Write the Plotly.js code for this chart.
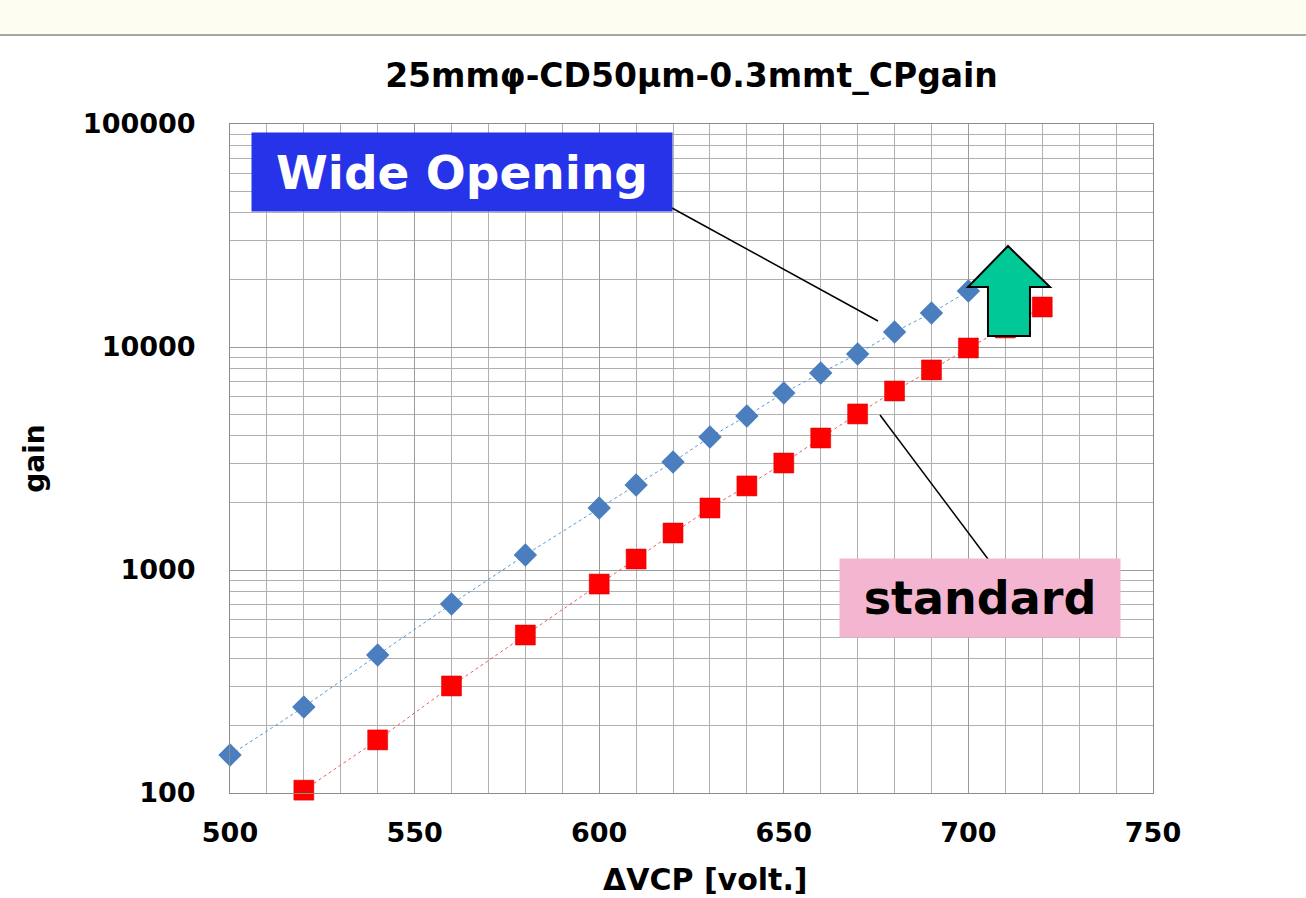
<!DOCTYPE html>
<html>
<head>
<meta charset="utf-8">
<script src="https://cdn.plot.ly/plotly-3.0.1.min.js"></script>
<style>
html,body{margin:0;padding:0;background:#ffffff;}
#chart{width:1306px;height:898px;}
</style>
</head>
<body>
<div id="chart"></div>
<script>
// Data
const voltWide = [500, 520, 540, 560, 580, 600, 610, 620, 630, 640, 650, 660, 670, 680, 690, 700];
const gainWide = [148, 243, 416, 704, 1168, 1897, 2405, 3050, 3948, 4906, 6221, 7646, 9305, 11675, 14200, 17830];

const voltStd = [520, 540, 560, 580, 600, 610, 620, 630, 640, 650, 660, 670, 680, 690, 700, 710, 720];
const gainStd = [103, 173, 302, 511, 865, 1120, 1465, 1897, 2382, 3018, 3908, 5010, 6350, 7890, 9900, 12170, 15110];

const titleText = "25mmφ-CD50μm-0.3mmt_CPgain";
const xTitle = "ΔVCP [volt.]";
const yTitle = "gain";
const labelWide = "Wide Opening";
const labelStd = "standard";

const FONT = "DejaVu Sans, Verdana, sans-serif";

const traces = [
  {
    x: voltWide, y: gainWide, type: 'scatter', mode: 'lines+markers', name: 'Wide Opening',
    cliponaxis: false,
    line: {color: '#4F9BD6', width: 1, dash: 'dot'},
    marker: {symbol: 'diamond', size: 18, color: '#4A7EBF', line: {width: 0}}
  },
  {
    x: voltStd, y: gainStd, type: 'scatter', mode: 'lines+markers', name: 'standard',
    cliponaxis: false,
    line: {color: '#E46060', width: 1, dash: 'dot'},
    marker: {symbol: 'square', size: 20, color: '#FF0000', line: {width: 0.5, color: '#D00000'}}
  }
];

const gridC = '#B0B0B0';
const layout = {
  width: 1306, height: 898,
  margin: {l: 230, r: 153, t: 124, b: 105},
  paper_bgcolor: '#ffffff',
  plot_bgcolor: '#ffffff',
  showlegend: false,
  title: {
    text: titleText, xref: 'paper', x: 0.5, xanchor: 'center',
    yref: 'container', y: 1 - 75/898, yanchor: 'middle',
    font: {family: FONT, size: 33, weight: 'bold', color: '#000'}
  },
  xaxis: {
    type: 'linear', range: [500, 750], dtick: 50, tick0: 500,
    showgrid: true, gridcolor: '#9C9C9C', gridwidth: 1,
    minor: {dtick: 10, showgrid: true, gridcolor: gridC, gridwidth: 1},
    showline: true, linecolor: '#8C8C8C', linewidth: 1, mirror: true,
    ticks: '', zeroline: false,
    ticklabelstandoff: 16,
    tickfont: {family: FONT, size: 27, weight: 'bold', color: '#000'},
    automargin: false, fixedrange: true
  },
  yaxis: {
    type: 'log', range: [2, 5], dtick: 1, tickformat: 'd',
    showgrid: true, gridcolor: '#9C9C9C', gridwidth: 1,
    minor: {dtick: 'D1', showgrid: true, gridcolor: gridC, gridwidth: 1},
    showline: true, linecolor: '#8C8C8C', linewidth: 1, mirror: true,
    ticks: '', zeroline: false,
    ticklabelstandoff: 28,
    tickfont: {family: FONT, size: 27, weight: 'bold', color: '#000'},
    title: {text: yTitle, standoff: 30, font: {family: FONT, size: 28, weight: 'bold', color: '#000'}},
    automargin: false, fixedrange: true
  },
  shapes: [
    // top strip
    {type: 'rect', xref: 'paper', yref: 'paper', x0: -0.26, x1: 1.18, y0: 758/669, y1: 793/669 + 0.01,
     fillcolor: '#FDFDF2', line: {width: 0}, layer: 'below'},
    {type: 'line', xref: 'paper', yref: 'paper', x0: -0.26, x1: 1.18, y0: 758/669, y1: 758/669,
     line: {color: '#A8A8A0', width: 2}},
    // connector lines
    {type: 'line', xref: 'paper', yref: 'paper', x0: 442/923, y0: 585/669, x1: 648/923, y1: 472/669,
     line: {color: '#000', width: 1.5}},
    {type: 'line', xref: 'paper', yref: 'paper', x0: 758/923, y0: 234/669, x1: 650/923, y1: 378/669,
     line: {color: '#000', width: 1.5}},
    // green up arrow
    {type: 'path', xref: 'paper', yref: 'paper',
     path: 'M 0.8429 0.8176 L 0.8884 0.7564 L 0.8667 0.7564 L 0.8667 0.6831 L 0.8212 0.6831 L 0.8212 0.7564 L 0.7996 0.7564 Z',
     fillcolor: '#00C896', line: {color: '#000', width: 2}, layer: 'above'}
  ],
  annotations: [
    {xref: 'paper', yref: 'paper', x: 232/923, y: 621/669, xanchor: 'center', yanchor: 'middle',
     text: labelWide, showarrow: false, bgcolor: '#2633E8', borderpad: 0, width: 420, height: 78,
     font: {family: FONT, size: 47, weight: 'bold', color: '#ffffff'}},
    {xref: 'paper', yref: 'paper', x: 750/923, y: 195/669, xanchor: 'center', yanchor: 'middle',
     text: labelStd, showarrow: false, bgcolor: '#F4B5D0', borderpad: 0, width: 280, height: 78,
     font: {family: FONT, size: 46, weight: 'bold', color: '#000000'}},
    // x-axis title, placed at the very bottom as in the reference
    {xref: 'paper', yref: 'paper', x: 475/923, y: (793 - 879)/669, xanchor: 'center', yanchor: 'middle',
     text: xTitle, showarrow: false,
     font: {family: FONT, size: 30, weight: 'bold', color: '#000'}}
  ]
};

Plotly.newPlot('chart', traces, layout, {displayModeBar: false, staticPlot: true});
</script>
</body>
</html>
